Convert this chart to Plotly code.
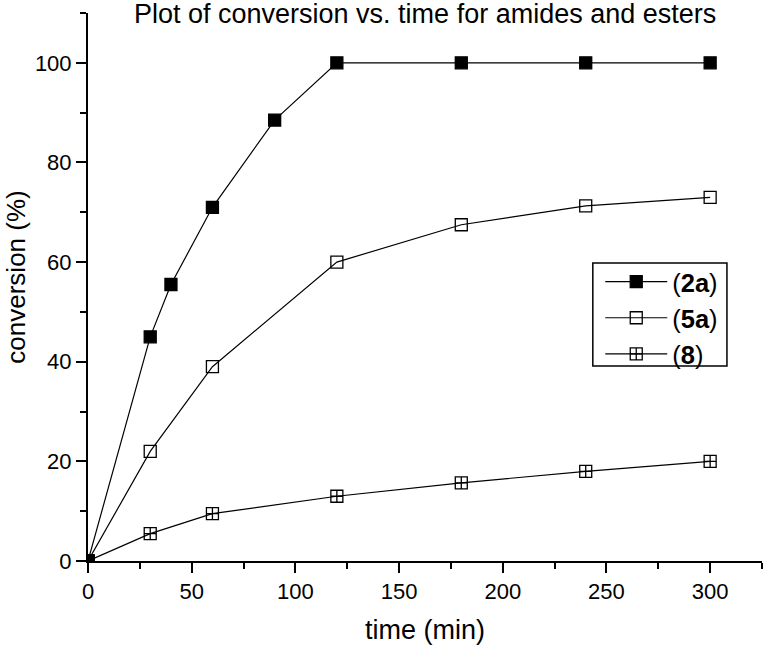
import plotly.graph_objects as go

t_2a = [0, 30, 40, 60, 90, 120, 180, 240, 300]
c_2a = [0, 45, 55.5, 71, 88.5, 100, 100, 100, 100]
t_5a = [0, 30, 60, 120, 180, 240, 300]
c_5a = [0, 22, 39, 60, 67.5, 71.3, 73]
t_8 = [0, 30, 60, 120, 180, 240, 300]
c_8 = [0, 5.5, 9.5, 13, 15.7, 18, 20]

x_ticks = [0, 50, 100, 150, 200, 250, 300]
y_ticks = [0, 20, 40, 60, 80, 100]

series = [
    ("(<b>2a</b>)", t_2a, c_2a, "square"),
    ("(<b>5a</b>)", t_5a, c_5a, "square-open"),
    ("(<b>8</b>)", t_8, c_8, "square-cross-open"),
]

fig = go.Figure()
for name, x, y, sym in series:
    fig.add_trace(go.Scatter(
        x=x, y=y, name=name, mode="lines+markers",
        line=dict(color="black", width=1.2),
        marker=dict(symbol=sym, size=12, color="black",
                    line=dict(color="black", width=1.3)),
        cliponaxis=True,
    ))

font = "Liberation Sans, Arial, sans-serif"
fig.update_layout(
    width=767, height=648,
    paper_bgcolor="white", plot_bgcolor="white",
    margin=dict(l=88, r=5, t=13, b=87),
    font=dict(family=font, color="black", size=22),
    legend=dict(x=0.760, y=0.552, xanchor="left", yanchor="top",
                borderwidth=0, bgcolor="rgba(0,0,0,0)",
                font=dict(size=25.5, family=font), tracegroupgap=0,
                itemwidth=62),
    showlegend=True,
    shapes=[dict(type="rect", xref="paper", yref="paper",
                 x0=0.749, x1=0.948, y0=0.356, y1=0.544,
                 line=dict(color="black", width=1.5), fillcolor="white",
                 layer="above")],
    annotations=[
        dict(text="Plot of conversion vs. time for amides and esters",
             x=0.5, xref="paper", y=1, yref="paper", yanchor="middle",
             xanchor="center", yshift=-1, showarrow=False,
             font=dict(size=27, family=font, color="black")),
        dict(text="time (min)", x=0.5, xref="paper", y=0, yref="paper",
             yanchor="middle", xanchor="center", yshift=-69, showarrow=False,
             font=dict(size=27, family=font, color="black")),
        dict(text="conversion (%)", x=0, xref="paper", y=0.517, yref="paper",
             yanchor="middle", xanchor="center", xshift=-72, textangle=-90,
             showarrow=False,
             font=dict(size=26, family=font, color="black")),
    ],
)
fig.update_xaxes(
    range=[0, 325], showgrid=False, zeroline=False, automargin=False,
    showline=True, linecolor="black", linewidth=2,
    ticks="outside", ticklen=10, tickwidth=2, tickcolor="black",
    tickvals=x_ticks,
    minor=dict(ticks="outside", ticklen=6, tickwidth=2, tickcolor="black",
               tickvals=[25, 75, 125, 175, 225, 275, 325]),
    tickfont=dict(size=22),
)
fig.update_yaxes(
    range=[0, 110], showgrid=False, zeroline=False, automargin=False,
    showline=True, linecolor="black", linewidth=2,
    ticks="outside", ticklen=10, tickwidth=2, tickcolor="black",
    tickvals=y_ticks,
    minor=dict(ticks="outside", ticklen=6, tickwidth=2, tickcolor="black",
               tickvals=[10, 30, 50, 70, 90, 110]),
    tickfont=dict(size=22),
)
fig.write_html("out.html",
               config={"displayModeBar": False},
               post_script="document.body.style.margin='0';")
